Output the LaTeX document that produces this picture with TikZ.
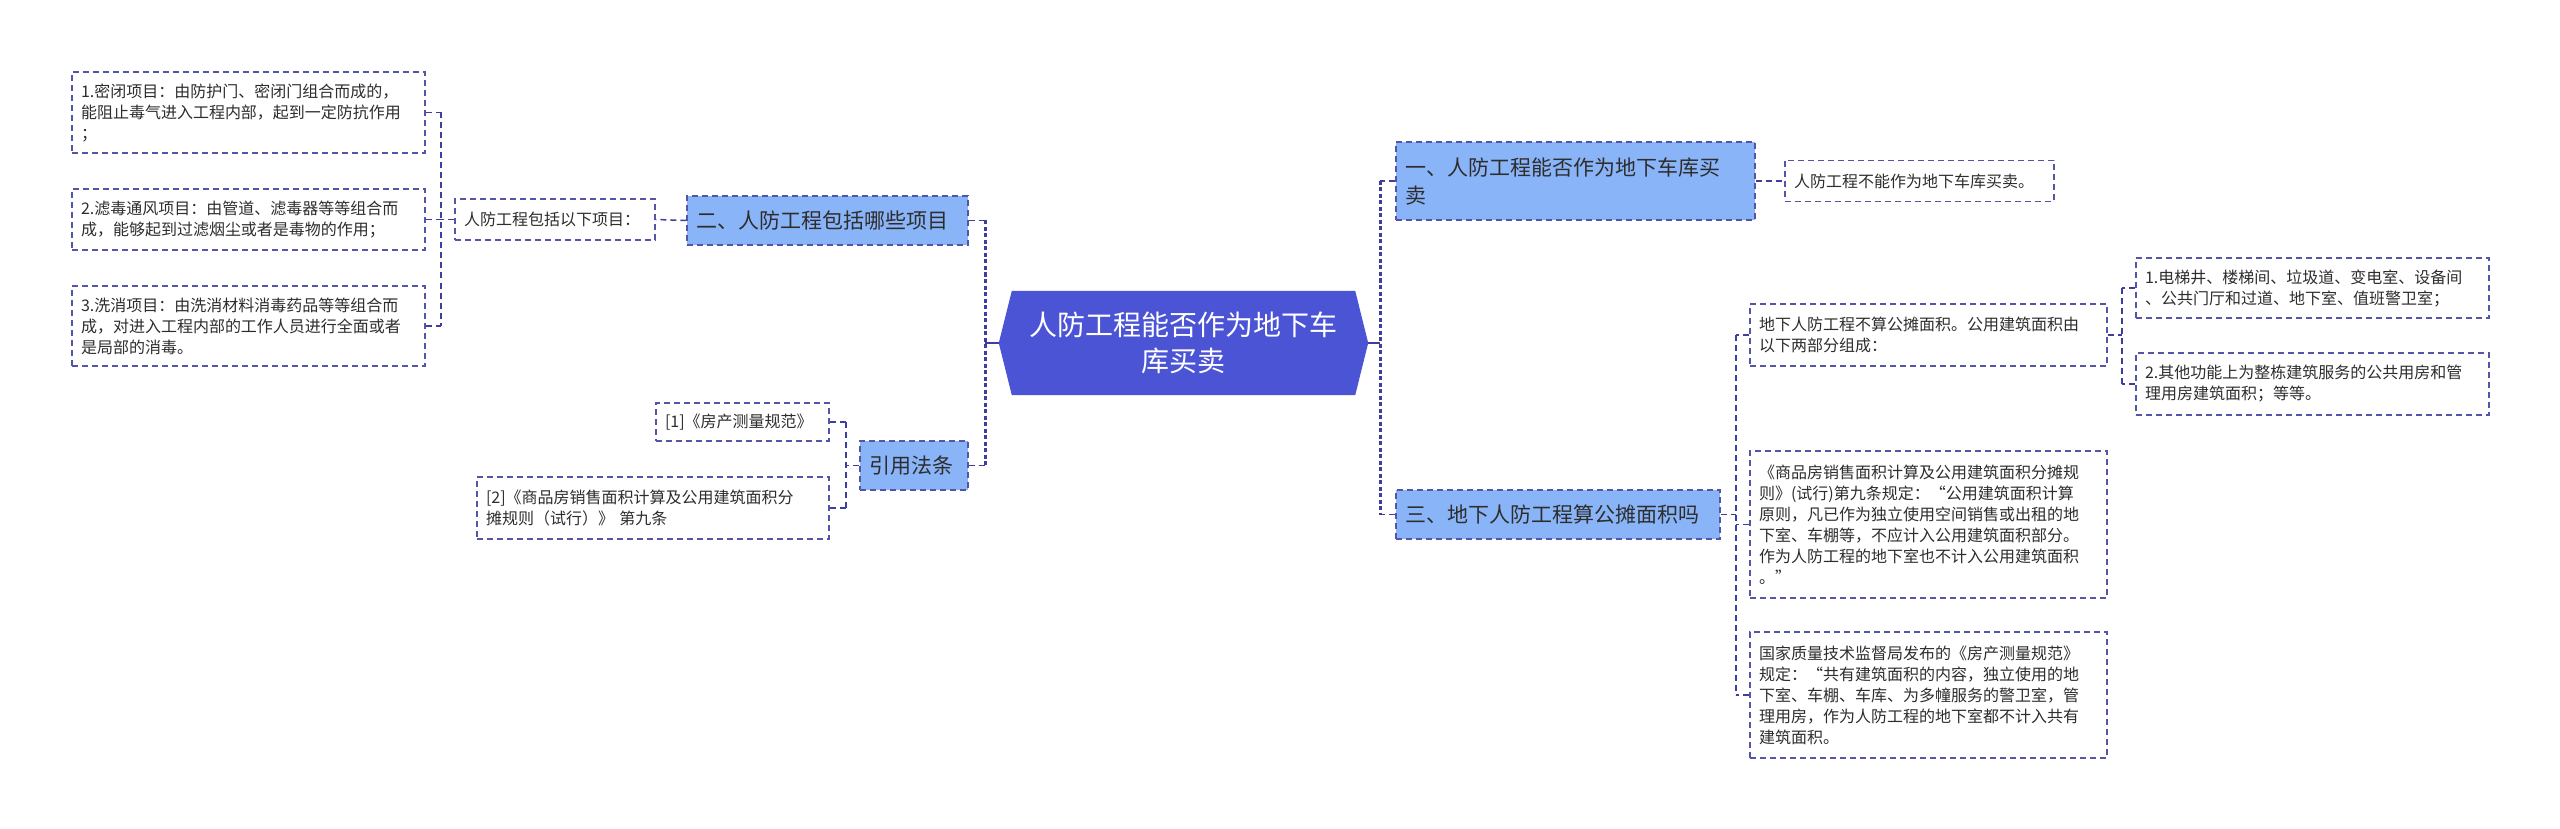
\documentclass[tikz,border=0pt]{standalone}
\usepackage{fontspec}
\setmainfont{Noto Sans CJK SC}
\XeTeXlinebreaklocale "zh"
\usetikzlibrary{backgrounds}
\definecolor{lc}{RGB}{62,62,158}
\definecolor{bc}{RGB}{84,84,168}
\definecolor{lb}{RGB}{138,180,248}
\definecolor{hx}{RGB}{76,84,214}
\definecolor{tx}{RGB}{45,45,45}
\tikzset{
  leaf/.style={draw=bc, line width=1.4pt, dash pattern=on 6pt off 4pt,
    font=\fontsize{16}{21}\selectfont, text=tx, align=left,
    inner xsep=9pt, inner ysep=0pt, anchor=center},
  lvl/.style={leaf, fill=lb, font=\fontsize{21}{28}\selectfont},
  conn/.style={draw=lc, line width=1.5pt, dash pattern=on 6pt off 4pt},
  spine/.style={draw=lc, line width=3pt, dash pattern=on 4pt off 2.5pt},
}
\begin{document}
\begin{tikzpicture}[x=1pt,y=-1pt]
\useasboundingbox (0,0) rectangle (2560,829);

% center
\node[text=white, font=\fontsize{28}{36}\selectfont, align=center,
  minimum width=369pt, minimum height=104pt, inner sep=0pt] (hex) at (1183.5,343)
  {人防工程能否作为地下车\\库买卖};
\begin{scope}[on background layer]
\fill[white] (0,0) rectangle (2560,829);
\fill[hx] (hex.west) -- ([xshift=13pt]hex.north west) -- ([xshift=-13pt]hex.north east)
  -- (hex.east) -- ([xshift=-13pt]hex.south east) -- ([xshift=13pt]hex.south west) -- cycle;
\end{scope}

% left side
\node[lvl, text width=263pt, minimum height=49pt] (s2) at (827.5,220.5) {二、人防工程包括哪些项目};
\node[leaf, text width=182pt, minimum height=41pt] (p2) at (555,219.5) {人防工程包括以下项目：};
\node[leaf, text width=335pt, minimum height=81pt] (l1) at (248.5,112.5)
  {1.密闭项目：由防护门、密闭门组合而成的，\\能阻止毒气进入工程内部，起到一定防抗作用\\；};
\node[leaf, text width=335pt, minimum height=61pt] (l2) at (248.5,219.5)
  {2.滤毒通风项目：由管道、滤毒器等等组合而\\成，能够起到过滤烟尘或者是毒物的作用；};
\node[leaf, text width=335pt, minimum height=80pt] (l3) at (248.5,326)
  {3.洗消项目：由洗消材料消毒药品等等组合而\\成，对进入工程内部的工作人员进行全面或者\\是局部的消毒。};

\node[lvl, text width=90pt, minimum height=49pt] (s4) at (914,465.5) {引用法条};
\node[leaf, text width=155pt, minimum height=38pt] (r1) at (742.5,422) {[1]《房产测量规范》};
\node[leaf, text width=334pt, minimum height=62pt] (r2) at (653,508)
  {[2]《商品房销售面积计算及公用建筑面积分\\摊规则（试行）》 第九条};

% right side
\node[lvl, text width=341pt, minimum height=78pt] (s1) at (1575.5,181)
  {一、人防工程能否作为地下车库买\\卖};
\node[leaf, text width=251pt, minimum height=41pt] (a1) at (1919.5,181) {人防工程不能作为地下车库买卖。};

\node[lvl, text width=306pt, minimum height=49pt] (s3) at (1558,514.5) {三、地下人防工程算公摊面积吗};
\node[leaf, text width=339pt, minimum height=62pt] (b1) at (1928.5,335)
  {地下人防工程不算公摊面积。公用建筑面积由\\以下两部分组成：};
\node[leaf, text width=335pt, minimum height=60pt] (c1) at (2312.5,288)
  {1.电梯井、楼梯间、垃圾道、变电室、设备间\\、公共门厅和过道、地下室、值班警卫室；};
\node[leaf, text width=335pt, minimum height=62pt] (c2) at (2312.5,384)
  {2.其他功能上为整栋建筑服务的公共用房和管\\理用房建筑面积；等等。};
\node[leaf, text width=339pt, minimum height=147pt] (b2) at (1928.5,524.5)
  {《商品房销售面积计算及公用建筑面积分摊规\\则》(试行)第九条规定：“公用建筑面积计算\\原则，凡已作为独立使用空间销售或出租的地\\下室、车棚等，不应计入公用建筑面积部分。\\作为人防工程的地下室也不计入公用建筑面积\\。”};
\node[leaf, text width=339pt, minimum height=126pt] (b3) at (1928.5,695)
  {国家质量技术监督局发布的《房产测量规范》\\规定：“共有建筑面积的内容，独立使用的地\\下室、车棚、车库、为多幢服务的警卫室，管\\理用房，作为人防工程的地下室都不计入共有\\建筑面积。};

% spine coordinates
\coordinate (xL) at (985,0);
\coordinate (xR) at (1380,0);
\coordinate (xA) at (441,0);
\coordinate (xB) at (846,0);
\coordinate (xC) at (1736,0);
\coordinate (xD) at (2122,0);

% center connections
\draw[lc, line width=2pt] (hex.west) -- (hex.west -| xL);
\draw[lc, line width=2pt] (hex.east) -- (hex.east -| xR);
\draw[spine] (s2.east -| xL) -- (s4.east -| xL);
\draw[spine] (s1.west -| xR) -- (s3.west -| xR);
\draw[conn] (s2.east) -- (s2.east -| xL);
\draw[conn] (s4.east) -- (s4.east -| xL);
\draw[conn] (s1.west) -- (s1.west -| xR);
\draw[conn] (s3.west) -- (s3.west -| xR);

% left branches
\draw[conn] (s2.west) -- (p2.east);
\draw[conn] (p2.west) -- (p2.west -| xA);
\draw[conn] (l1.east -| xA) -- (l3.east -| xA);
\draw[conn] (l1.east) -- (l1.east -| xA);
\draw[conn] (l2.east) -- (l2.east -| xA);
\draw[conn] (l3.east) -- (l3.east -| xA);

\draw[conn] (s4.west) -- (s4.west -| xB);
\draw[conn] (r1.east -| xB) -- (r2.east -| xB);
\draw[conn] (r1.east) -- (r1.east -| xB);
\draw[conn] (r2.east) -- (r2.east -| xB);

% right branches
\draw[conn] (s1.east) -- (a1.west);
\draw[conn] (s3.east) -- (s3.east -| xC);
\draw[conn] (b1.west -| xC) -- (b3.west -| xC);
\draw[conn] (b1.west) -- (b1.west -| xC);
\draw[conn] (b2.west) -- (b2.west -| xC);
\draw[conn] (b3.west) -- (b3.west -| xC);

\draw[conn] (b1.east) -- (b1.east -| xD);
\draw[conn] (c1.west -| xD) -- (c2.west -| xD);
\draw[conn] (c1.west) -- (c1.west -| xD);
\draw[conn] (c2.west) -- (c2.west -| xD);
\end{tikzpicture}
\end{document}
